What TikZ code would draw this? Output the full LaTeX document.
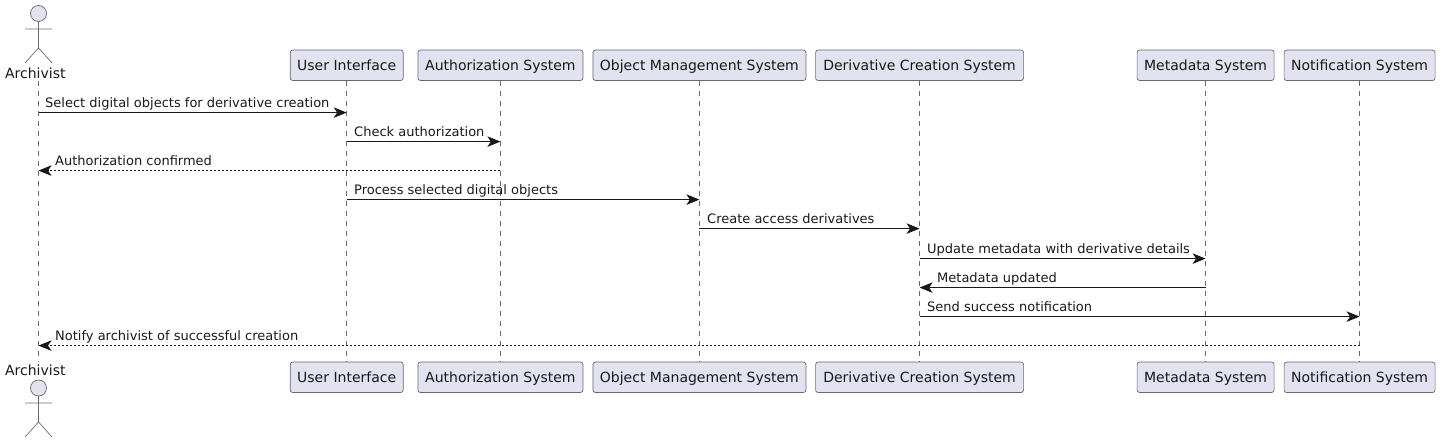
\documentclass[tikz,border=0pt]{standalone}
\usepackage{fontspec}
\setmainfont{DejaVu Sans}
\usepackage{tikz}
\usetikzlibrary{calc}
\usetikzlibrary{arrows.meta}
\definecolor{partfill}{HTML}{E2E2F0}
\definecolor{partline}{HTML}{181818}
\tikzset{
	part/.style={draw=partline!65,fill=partfill,line width=.7pt,rounded corners=2.5pt,minimum height=30.5pt,inner sep=0pt,text height=11.8pt,text depth=1.5pt,font=\fontsize{14}{16}\selectfont,text=black!90},
	actorlabel/.style={inner sep=0pt,anchor=base,font=\fontsize{14}{16}\selectfont,text=black!90},
	actorbody/.style={draw=partline!65,line width=.7pt},
	lifeline/.style={draw=partline!65,line width=.7pt,dash pattern=on 5pt off 5pt},
	msg/.style={draw=partline,line width=1pt,-{Stealth[length=13pt,width=10.5pt,inset=3.5pt]}},
	msgback/.style={msg,dash pattern=on 2pt off 2pt},
	msglabel/.style={inner sep=0pt,anchor=base west,font=\fontsize{13}{15}\selectfont,text=black!90},
}
\begin{document}
\begin{tikzpicture}[x=1pt,y=-1pt]
	\useasboundingbox (0,0) rectangle (1440,443);
	% top and bottom boxes
	\coordinate (archtop) at (38.5,81);
	\coordinate (archbot) at (38.5,362);
	\node[part,minimum width=113pt] (ui) at (346.7,65.25) {User Interface};
	\node[part,minimum width=165pt] (auth) at (500.4,65.25) {Authorization System};
	\node[part,minimum width=213pt] (obj) at (699.4,65.25) {Object Management System};
	\node[part,minimum width=208pt] (deriv) at (919.6,65.25) {Derivative Creation System};
	\node[part,minimum width=137pt] (meta) at (1205.6,65.25) {Metadata System};
	\node[part,minimum width=151pt] (notif) at (1359.6,65.25) {Notification System};
	\node[part,minimum width=113pt] (uib) at (346.7,377.25) {User Interface};
	\node[part,minimum width=165pt] (authb) at (500.4,377.25) {Authorization System};
	\node[part,minimum width=213pt] (objb) at (699.4,377.25) {Object Management System};
	\node[part,minimum width=208pt] (derivb) at (919.6,377.25) {Derivative Creation System};
	\node[part,minimum width=137pt] (metab) at (1205.6,377.25) {Metadata System};
	\node[part,minimum width=151pt] (notifb) at (1359.6,377.25) {Notification System};
	% lifelines
	\draw[lifeline] (archtop) -- (archbot);
	\draw[lifeline] (ui) -- (uib);
	\draw[lifeline] (auth) -- (authb);
	\draw[lifeline] (obj) -- (objb);
	\draw[lifeline] (deriv) -- (derivb);
	\draw[lifeline] (meta) -- (metab);
	\draw[lifeline] (notif) -- (notifb);
	% actor, top and bottom
	\node[actorlabel] (archname) at (35.3,78.5) {Archivist};
	\node[actorlabel] (archnameb) at (35.3,375.5) {Archivist};
	\draw[actorbody,fill=partfill] (38.5,13.5) circle (8);
	\draw[actorbody] (38.5,21.5) -- (38.5,48) (25,29) -- (52,29) (25,63) -- (38.5,48) -- (52,63);
	\draw[actorbody,fill=partfill] (38.5,388) circle (8);
	\draw[actorbody] (38.5,396) -- (38.5,422) (25,403) -- (52,403) (25,437) -- (38.5,422) -- (52,437);
	% messages
	\coordinate (m1) at (0,112.6);
	\coordinate (m2) at (0,141.6);
	\coordinate (m3) at (0,170.6);
	\coordinate (m4) at (0,199.6);
	\coordinate (m5) at (0,228.6);
	\coordinate (m6) at (0,258.6);
	\coordinate (m7) at (0,287.6);
	\coordinate (m8) at (0,316.6);
	\coordinate (m9) at (0,345.6);
	\draw[msg] (archtop |- m1) -- (ui |- m1);
	\draw[msg] (ui |- m2) -- (auth |- m2);
	\draw[msgback] (auth |- m3) -- (archtop |- m3);
	\draw[msg] (ui |- m4) -- (obj |- m4);
	\draw[msg] (obj |- m5) -- (deriv |- m5);
	\draw[msg] (deriv |- m6) -- (meta |- m6);
	\draw[msg] (meta |- m7) -- (deriv |- m7);
	\draw[msg] (deriv |- m8) -- (notif |- m8);
	\draw[msgback] (notif |- m9) -- (archtop |- m9);
	\node[msglabel] (l1) at (45,108) {Select digital objects for derivative creation};
	\node[msglabel] (l2) at (354,137) {Check authorization};
	\node[msglabel] (l3) at (55,166) {Authorization confirmed};
	\node[msglabel] (l4) at (354,195) {Process selected digital objects};
	\node[msglabel] (l5) at (707,224) {Create access derivatives};
	\node[msglabel] (l6) at (927,254) {Update metadata with derivative details};
	\node[msglabel] (l7) at (937,283) {Metadata updated};
	\node[msglabel] (l8) at (927,312) {Send success notification};
	\node[msglabel] (l9) at (55,341) {Notify archivist of successful creation};
\end{tikzpicture}
\end{document}
